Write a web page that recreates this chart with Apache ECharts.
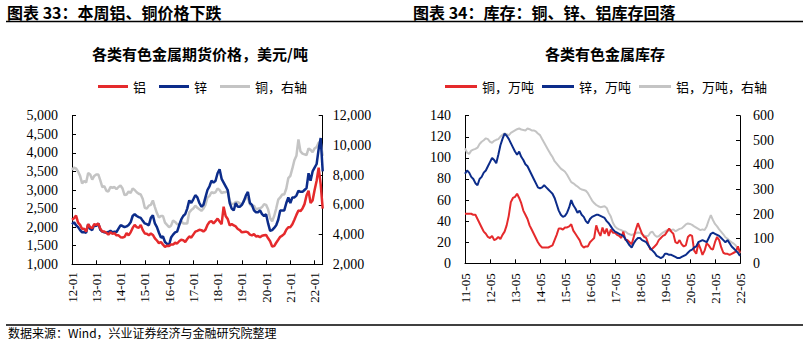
<!DOCTYPE html>
<html>
<head>
<meta charset="utf-8">
<script src="https://cdn.jsdelivr.net/npm/echarts@6/dist/echarts.min.js"></script>
<style>
html,body{margin:0;padding:0;background:#fff;}
#c{width:807px;height:346px;}
</style>
</head>
<body>
<div id="c"></div>
<script>
// ---------- Chart 33: futures prices (monthly, 2012-01 .. 2022-05) ----------
const priceCategories = [];
for (let y = 2012; y <= 2022; y++) {
  for (let m = 1; m <= 12; m++) {
    if (y === 2022 && m > 5) break;
    priceCategories.push(String(y).slice(2) + '-' + (m < 10 ? '0' + m : m));
  }
}
const aluminumPrice = [
  2200,2240,2310,2120,2060,1950,1960,1880,2080,2000,1970,2080,
  2060,2100,1960,1880,1880,1850,1800,1860,1820,1840,1780,1780,
  1730,1720,1740,1840,1780,1860,1980,2060,2000,1980,2060,1920,
  1830,1820,1780,1830,1790,1700,1640,1570,1600,1530,1470,1500,
  1490,1530,1530,1580,1560,1620,1660,1650,1600,1680,1750,1720,
  1800,1880,1900,1930,1920,1880,1930,2060,2140,2160,2100,2160,
  2230,2150,2080,2550,2300,2220,2050,2080,2050,2020,1950,1920,
  1860,1870,1880,1860,1800,1780,1810,1750,1760,1730,1770,1780,
  1790,1700,1620,1480,1490,1580,1660,1740,1770,1820,1930,2000,
  2000,2080,2200,2330,2450,2430,2500,2620,2850,2980,2650,2720,
  3000,3250,3600,3150,2500
];
const zincPrice = [
  2080,2130,2050,2000,1920,1860,1870,1850,2080,1950,1920,2060,
  2030,2100,1930,1880,1860,1850,1870,1900,1860,1880,1870,1960,
  2050,2030,2000,2020,2060,2130,2300,2350,2300,2270,2250,2170,
  2100,2080,2050,2250,2320,2100,2000,1850,1720,1750,1600,1550,
  1520,1720,1800,1860,1880,2050,2200,2300,2350,2500,2720,2650,
  2750,2860,2800,2650,2550,2600,2800,3000,3100,3250,3200,3250,
  3450,3560,3300,3200,3100,3000,2650,2500,2450,2650,2550,2550,
  2600,2700,2850,2950,2650,2600,2450,2400,2400,2450,2350,2300,
  2350,2100,1900,1920,1980,2050,2200,2450,2450,2450,2650,2800,
  2650,2800,2800,2850,2980,2950,2950,3000,3050,3450,3250,3500,
  3600,3700,4100,4400,3500
];
const copperPrice = [
  8350,8500,8450,8250,7950,7450,7600,7500,8150,8050,7700,7950,
  8050,8050,7650,7200,7250,6950,6900,7200,7150,7200,7050,7200,
  7300,7100,6650,6700,6900,6800,7100,7000,6850,6750,6700,6400,
  5800,5750,5950,6000,6300,5850,5450,5150,5250,5250,4800,4650,
  4500,4600,4950,4850,4700,4650,4900,4750,4750,4750,5500,5650,
  5750,5950,5800,5700,5600,5750,6000,6500,6600,6850,6800,6850,
  7100,7000,6800,6850,6850,7000,6250,6050,6050,6200,6200,6100,
  5950,6300,6450,6450,6050,5900,5950,5700,5750,5750,5850,6050,
  6000,5700,5100,4900,5250,5750,6350,6500,6700,6700,7100,7800,
  7950,8450,9000,9300,10400,9600,9450,9400,9350,9800,9700,9550,
  9800,9900,10200,10200,9300
];

// ---------- Chart 34: inventories (monthly, 2011-05 .. 2022-05) ----------
const stockCategories = [];
for (let y = 2011; y <= 2022; y++) {
  for (let m = 1; m <= 12; m++) {
    if (y === 2011 && m < 5) continue;
    if (y === 2022 && m > 5) break;
    stockCategories.push(String(y).slice(2) + '-' + (m < 10 ? '0' + m : m));
  }
}
const copperStock = [
  47,47,47,47,46,46,42,38,34,30,28,25,
  24,26,22,23,25,23,27,30,36,45,58,62,
  63,66,62,57,50,46,42,36,32,28,24,20,
  17,15,15,15,15,16,17,22,27,33,33,32,
  34,34,35,37,31,28,25,22,17,15,16,16,
  20,22,24,36,30,26,34,28,33,26,32,29,
  29,27,26,24,30,22,22,20,18,25,32,38,
  33,28,25,24,18,13,14,16,18,22,24,26,
  27,30,33,30,28,20,19,22,18,16,17,25,
  27,26,12,9,19,14,8,12,19,17,14,13,
  20,25,22,15,10,9,9,8,9,10,11,16,
  10
];
const zincStock = [
  85,88,86,82,80,76,74,80,82,86,88,92,
  96,100,98,95,103,112,118,123,121,118,114,110,
  106,103,106,101,98,94,92,88,84,80,76,72,
  71,72,74,72,70,68,66,62,56,50,46,44,
  45,48,53,60,55,52,48,50,46,44,40,38,
  42,44,45,46,46,45,44,43,40,38,35,32,
  30,29,28,27,26,23,20,17,15,19,22,24,
  24,22,21,20,17,14,12,10,7,6,5,6,
  9,9,8,8,7,6,5,5,6,7,8,10,
  12,13,15,16,20,21,22,21,20,24,28,29,
  28,27,26,24,22,20,22,19,16,14,12,10,
  7
];
const aluminumStock = [
  467,450,445,458,462,465,470,485,494,500,508,505,
  494,490,498,502,505,515,522,528,525,520,530,535,
  540,545,548,544,542,540,548,545,540,540,536,528,
  521,505,490,475,460,445,432,415,405,395,385,379,
  372,360,345,330,325,318,312,305,300,298,295,285,
  270,255,245,237,232,228,230,232,225,205,190,165,
  150,142,138,135,130,129,122,118,115,118,122,125,
  124,118,112,110,112,125,128,115,108,110,118,125,
  130,135,132,135,138,130,135,140,142,150,158,162,
  160,156,150,145,140,135,138,135,150,175,196,176,
  160,150,138,128,118,106,100,92,85,80,72,60,
  40
];

const priceYTicks = [1000, 5000, 500];      // min, max, interval
const priceY2Ticks = [2000, 12000, 2000];
const stockYTicks = [0, 140, 20];
const stockY2Ticks = [0, 600, 100];

const RED = '#E52A2C', BLUE = '#0C2C8A', GRAY = '#C4C4C4';
const SERIF = '"Liberation Serif","Times New Roman",serif';
const CJK = '"Noto Sans CJK SC","Noto Sans",sans-serif';

const fmt = v => String(v).replace(/\B(?=(\d{3})+(?!\d))/g, ',');

function xAxisCfg(gridIndex, cats, suffix, margin) {
  const f = (i, v) => v.endsWith(suffix);
  return {
    type: 'category', gridIndex, data: cats, boundaryGap: false,
    axisLine: { show: true, lineStyle: { color: '#000', width: 1 } },
    axisTick: { show: true, inside: true, length: 4, interval: f, lineStyle: { color: '#000' } },
    axisLabel: { interval: f, rotate: 90, margin, fontFamily: SERIF, fontSize: 13, color: '#000' },
    splitLine: { show: false }
  };
}
function yAxisCfg(gridIndex, t, position, margin, withComma) {
  return {
    type: 'value', gridIndex, position, min: t[0], max: t[1], interval: t[2],
    axisLine: { show: true, lineStyle: { color: '#000', width: 1 } },
    axisTick: { show: true, inside: true, length: 4, lineStyle: { color: '#000' } },
    axisLabel: { margin, fontFamily: SERIF, fontSize: 14, color: '#000',
      formatter: v => withComma ? fmt(v) : String(v) },
    splitLine: { show: false }
  };
}
function lineSeries(name, data, color, xi, yi, width) {
  return { name, type: 'line', data, xAxisIndex: xi, yAxisIndex: yi,
    showSymbol: false, symbol: 'none', smooth: false, animation: false,
    lineStyle: { color, width }, itemStyle: { color } };
}

const chart = echarts.init(document.getElementById('c'), null, { renderer: 'svg' });
chart.setOption({
  backgroundColor: '#fff',
  animation: false,
  grid: [
    { left: 72, right: 807 - 322.7, top: 115.7, bottom: 346 - 264.3 },
    { left: 465, right: 807 - 740, top: 115.7, bottom: 346 - 263.3 }
  ],
  xAxis: [
    xAxisCfg(0, priceCategories, '-01', 8),
    xAxisCfg(1, stockCategories, '-05', 10)
  ],
  yAxis: [
    yAxisCfg(0, priceYTicks, 'left', 14, true),
    yAxisCfg(0, priceY2Ticks, 'right', 10, true),
    yAxisCfg(1, stockYTicks, 'left', 14, false),
    yAxisCfg(1, stockY2Ticks, 'right', 13, false)
  ],
  legend: [
    { left: 98, top: 80, padding: 0, itemGap: 13, itemWidth: 30, itemHeight: 3, icon: 'rect',
      textStyle: { fontFamily: CJK, fontSize: 13, color: '#000' },
      data: ['铝', '锌', '铜，右轴'] },
    { left: 445, top: 80, padding: 0, itemGap: 8, itemWidth: 32, itemHeight: 3, icon: 'rect',
      textStyle: { fontFamily: CJK, fontSize: 13, color: '#000' },
      data: ['铜，万吨', '锌，万吨', '铝，万吨，右轴'] }
  ],
  series: [
    lineSeries('铜，右轴', copperPrice, GRAY, 0, 1, 2.5),
    lineSeries('锌', zincPrice, BLUE, 0, 0, 2.5),
    lineSeries('铝', aluminumPrice, RED, 0, 0, 2.5),
    lineSeries('铝，万吨，右轴', aluminumStock, GRAY, 1, 3, 2),
    lineSeries('铜，万吨', copperStock, RED, 1, 2, 2),
    lineSeries('锌，万吨', zincStock, BLUE, 1, 2, 2)
  ],
  graphic: [
    { type: 'text', x: 7, y: 12, style: { text: '图表 33：本周铝、铜价格下跌', font: 'bold 16px ' + CJK, fill: '#000', align: 'left', verticalAlign: 'middle' } },
    { type: 'text', x: 413, y: 12, style: { text: '图表 34：库存：铜、锌、铝库存回落', font: 'bold 16px ' + CJK, fill: '#000', align: 'left', verticalAlign: 'middle' } },
    { type: 'line', shape: { x1: 6, y1: 21.5, x2: 803, y2: 21.5 }, style: { stroke: '#000', lineWidth: 1.3 } },
    { type: 'text', x: 200, y: 53, style: { text: '各类有色金属期货价格，美元/吨', font: 'bold 15px ' + CJK, fill: '#000', align: 'center', verticalAlign: 'middle' } },
    { type: 'text', x: 605, y: 53, style: { text: '各类有色金属库存', font: 'bold 15px ' + CJK, fill: '#000', align: 'center', verticalAlign: 'middle' } },
    { type: 'line', shape: { x1: 6, y1: 325, x2: 803, y2: 325 }, style: { stroke: '#000', lineWidth: 1.3 } },
    { type: 'text', x: 8, y: 332, style: { text: '数据来源：Wind，兴业证券经济与金融研究院整理', font: '12px ' + CJK, fill: '#000', align: 'left', verticalAlign: 'middle' } }
  ]
});
</script>
</body>
</html>
